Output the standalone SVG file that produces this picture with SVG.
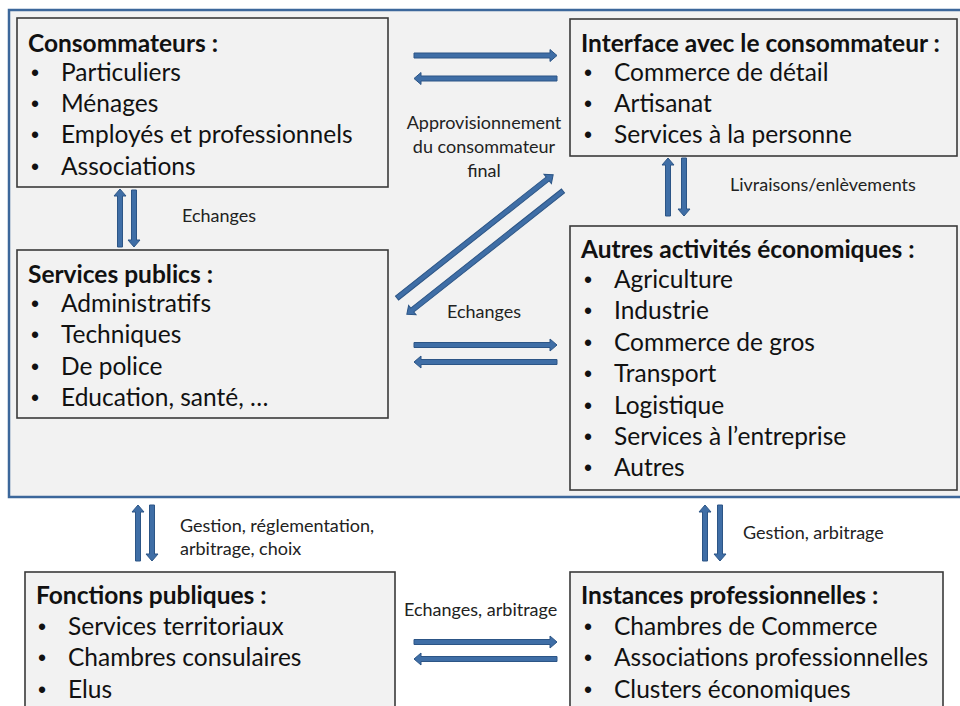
<svg xmlns="http://www.w3.org/2000/svg" width="960" height="706" viewBox="0 0 960 706">
<style>
.frame{fill:#F2F2F2;stroke:#3C679B;stroke-width:2.5}
.box{fill:#F2F2F2;stroke:#3A3A3A;stroke-width:1.6}
.t{font-family:Lato,"Liberation Sans",sans-serif;fill:#111}
.title{font-size:24.5px;font-weight:bold}
.item{font-size:24.5px}
.b{font-family:"Liberation Sans",Arial,sans-serif;font-size:23px;fill:#111}
.lbl{font-size:18px;fill:#222}
.arr{fill:#3F6EA6;stroke:#2C5586;stroke-width:1}
</style>
<rect x="-1" y="-1" width="962" height="708" fill="#FFFFFF"/>
<rect class="frame" x="9" y="10" width="960" height="487"/>

<g id="consommateurs">
<rect class="box" x="17" y="18" width="371" height="169"/>
<text class="t title" x="28" y="52">Consommateurs :</text>
<g class="b">
<text x="31" y="81">•</text><text x="31" y="112">•</text><text x="31" y="143">•</text><text x="31" y="175">•</text>
</g>
<g class="t item">
<text x="61" y="81">Particuliers</text>
<text x="61" y="112">Ménages</text>
<text x="61" y="143">Employés et professionnels</text>
<text x="61" y="175">Associations</text>
</g>
</g>

<g id="interface">
<rect class="box" x="570" y="19" width="387" height="137"/>
<text class="t title" x="581" y="52">Interface avec le consommateur :</text>
<g class="b">
<text x="584" y="81">•</text><text x="584" y="112">•</text><text x="584" y="143">•</text>
</g>
<g class="t item">
<text x="614" y="81">Commerce de détail</text>
<text x="614" y="112">Artisanat</text>
<text x="614" y="143">Services à la personne</text>
</g>
</g>

<g id="services-publics">
<rect class="box" x="17" y="250" width="371" height="168"/>
<text class="t title" x="28" y="283">Services publics :</text>
<g class="b">
<text x="31" y="312">•</text><text x="31" y="343">•</text><text x="31" y="375">•</text><text x="31" y="406">•</text>
</g>
<g class="t item">
<text x="61" y="312">Administratifs</text>
<text x="61" y="343">Techniques</text>
<text x="61" y="375">De police</text>
<text x="61" y="406">Education, santé, …</text>
</g>
</g>

<g id="autres-activites">
<rect class="box" x="570" y="226" width="387" height="264"/>
<text class="t title" x="581" y="258">Autres activités économiques :</text>
<g class="b">
<text x="584" y="288">•</text><text x="584" y="319">•</text><text x="584" y="351">•</text><text x="584" y="382">•</text><text x="584" y="414">•</text><text x="584" y="445">•</text><text x="584" y="476">•</text>
</g>
<g class="t item">
<text x="614" y="288">Agriculture</text>
<text x="614" y="319">Industrie</text>
<text x="614" y="351">Commerce de gros</text>
<text x="614" y="382">Transport</text>
<text x="614" y="414">Logistique</text>
<text x="614" y="445">Services à l’entreprise</text>
<text x="614" y="476">Autres</text>
</g>
</g>

<g id="fonctions-publiques">
<rect class="box" x="25" y="572" width="370" height="150"/>
<text class="t title" x="36" y="604">Fonctions publiques :</text>
<g class="b">
<text x="38" y="635">•</text><text x="38" y="666">•</text><text x="38" y="698">•</text>
</g>
<g class="t item">
<text x="68" y="635">Services territoriaux</text>
<text x="68" y="666">Chambres consulaires</text>
<text x="68" y="698">Elus</text>
</g>
</g>

<g id="instances-professionnelles">
<rect class="box" x="570" y="572" width="373" height="150"/>
<text class="t title" x="581" y="604">Instances professionnelles :</text>
<g class="b">
<text x="584" y="635">•</text><text x="584" y="666">•</text><text x="584" y="698">•</text>
</g>
<g class="t item">
<text x="614" y="635">Chambres de Commerce</text>
<text x="614" y="666">Associations professionnelles</text>
<text x="614" y="698">Clusters économiques</text>
</g>
</g>

<g id="connectors">
<polygon class="arr" points="414,53 550,53 550,49.5 557,55.5 550,61.5 550,58 414,58"/>
<polygon class="arr" points="557,76 421,76 421,72.5 414,78.5 421,84.5 421,81 557,81"/>
<polygon class="arr" points="414,342.5 550,342.5 550,339 557,345 550,351 550,347.5 414,347.5"/>
<polygon class="arr" points="557,359.5 421,359.5 421,356 414,362 421,368 421,364.5 557,364.5"/>
<polygon class="arr" points="414,639.5 550,639.5 550,636 557,642 550,648 550,644.5 414,644.5"/>
<polygon class="arr" points="557,656.5 421,656.5 421,653 414,659 421,665 421,661.5 557,661.5"/>
<polygon class="arr" points="117.5,247 117.5,196 114,196 120,189 126,196 122.5,196 122.5,247"/>
<polygon class="arr" points="131.5,190 131.5,240 128,240 134,247 140,240 136.5,240 136.5,190"/>
<polygon class="arr" points="665.5,216 665.5,165 662,165 668,158 674,165 670.5,165 670.5,216"/>
<polygon class="arr" points="681.5,158 681.5,209 678,209 684,216 690,209 686.5,209 686.5,158"/>
<polygon class="arr" points="135.5,561 135.5,512 132,512 138,505 144,512 140.5,512 140.5,561"/>
<polygon class="arr" points="149.5,505 149.5,554 146,554 152,561 158,554 154.5,554 154.5,505"/>
<polygon class="arr" points="702.5,561 702.5,512 699,512 705,505 711,512 707.5,512 707.5,561"/>
<polygon class="arr" points="717.5,505 717.5,554 714,554 720,561 726,554 722.5,554 722.5,505"/>
<g transform="translate(397,298) rotate(-38.3)">
<polygon class="arr" points="0,-2.5 192,-2.5 192,-6 199,0 192,6 192,2.5 0,2.5"/>
</g>
<g transform="translate(563,191) rotate(141.7)">
<polygon class="arr" points="0,-2.5 192,-2.5 192,-6 199,0 192,6 192,2.5 0,2.5"/>
</g>
</g>

<g id="labels" class="t lbl">
<text x="182" y="222">Echanges</text>
<text x="484" y="129" text-anchor="middle">Approvisionnement</text>
<text x="484" y="153" text-anchor="middle">du consommateur</text>
<text x="484" y="177" text-anchor="middle">final</text>
<text x="730" y="191">Livraisons/enlèvements</text>
<text x="484" y="318" text-anchor="middle">Echanges</text>
<text x="180" y="532">Gestion, réglementation,</text>
<text x="180" y="555">arbitrage, choix</text>
<text x="743" y="539">Gestion, arbitrage</text>
<text x="404" y="616">Echanges, arbitrage</text>
</g>
</svg>
